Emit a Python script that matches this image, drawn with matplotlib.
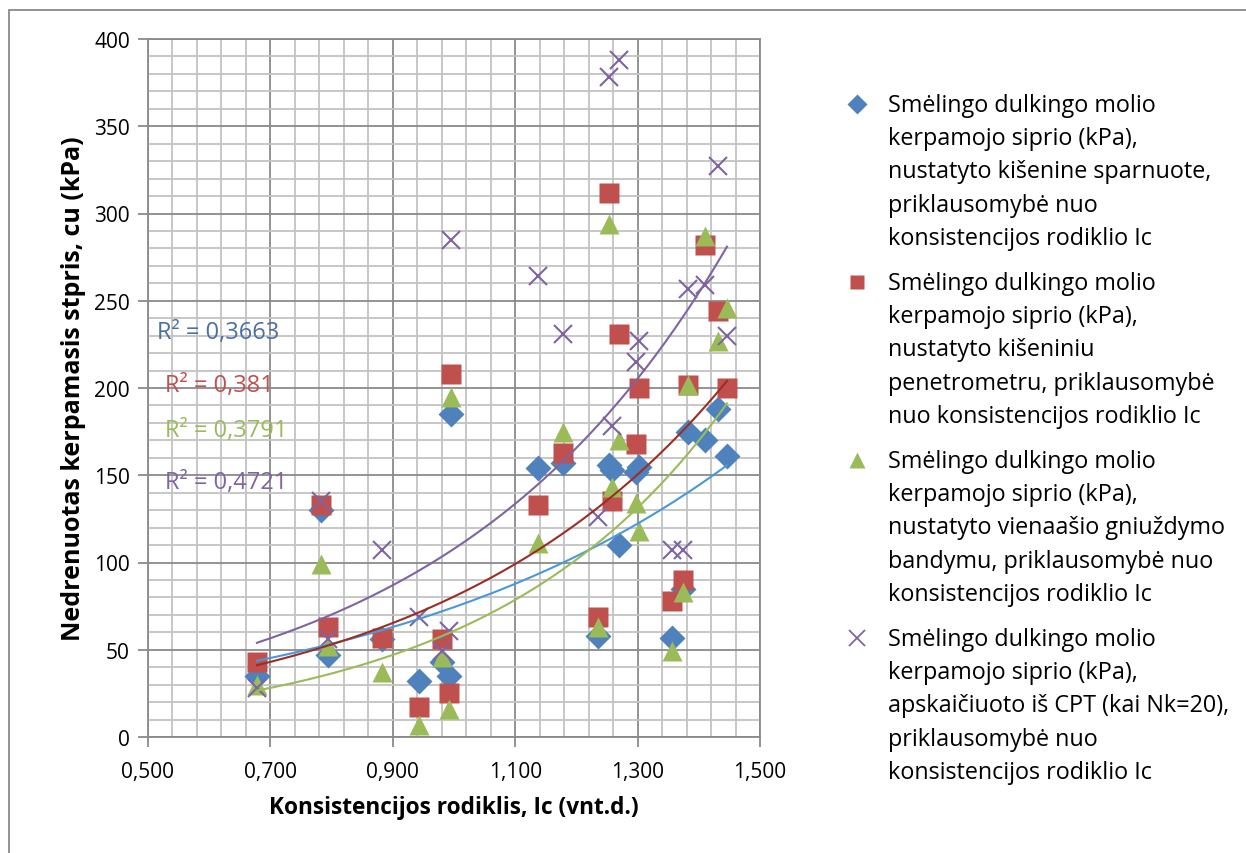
import numpy as np
import matplotlib.pyplot as plt
from matplotlib.lines import Line2D
from matplotlib.patches import Rectangle
from matplotlib.ticker import FixedLocator, FuncFormatter, MultipleLocator

plt.rcParams['font.family'] = ['Open Sans', 'DejaVu Sans']

# consistency index Ic for every sample
ic = [0.678, 0.782, 0.794, 0.882, 0.943, 0.981, 0.992, 0.995, 1.138, 1.178, 1.236,
      1.253, 1.258, 1.270, 1.297, 1.302, 1.357, 1.374, 1.383, 1.410, 1.432, 1.446]
# undrained shear strength cu (kPa)
cu_vane = [35, 130, 47, 56, 32, 43, 35, 185, 154, 157, 58,
           156, 153, 110, 152, 155, 57, 85, 175, 170, 188, 161]
cu_penetro = [43, 133, 63, 57, 17, 56, 25, 208, 133, 163, 69,
              312, 135, 231, 168, 200, 78, 90, 202, 282, 244, 200]
cu_uniax = [30, 99, 52, 37, 7, 46, 16, 195, 111, 175, 63,
            294, 143, 170, 134, 118, 49, 83, 202, 287, 227, 246]
cu_cpt = [28, 135, 56, 107, 69, 49, 61, 285, 264, 231, 126,
          378, 178, 388, 215, 227, 107, 107, 257, 259, 327, 230]

r2_labels = ['R² = 0,3663', 'R² = 0,381', 'R² = 0,3791', 'R² = 0,4721']
legend_labels = [
    'Smėlingo dulkingo molio\nkerpamojo siprio (kPa),\nnustatyto kišenine sparnuote,\npriklausomybė nuo\nkonsistencijos rodiklio Ic',
    'Smėlingo dulkingo molio\nkerpamojo siprio (kPa),\nnustatyto kišeniniu\npenetrometru, priklausomybė\nnuo konsistencijos rodiklio Ic',
    'Smėlingo dulkingo molio\nkerpamojo siprio (kPa),\nnustatyto vienaašio gniuždymo\nbandymu, priklausomybė nuo\nkonsistencijos rodiklio Ic',
    'Smėlingo dulkingo molio\nkerpamojo siprio (kPa),\napskaičiuoto iš CPT (kai Nk=20),\npriklausomybė nuo\nkonsistencijos rodiklio Ic',
]

series = [cu_vane, cu_penetro, cu_uniax, cu_cpt]
markers = ['D', 's', '^', 'x']
msizes = [13, 14, 15, 13]
colors = ['#4f81bd', '#c0504d', '#9bbb59', '#8064a2']
trend_colors = ['#4a98dc', '#9b2d24', '#9bbb59', '#8064a2']
text_colors = ['#4a6fa5', '#c0504d', '#9bbb59', '#8064a2']

fig = plt.figure(figsize=(12.46, 8.54), dpi=100)
ax = fig.add_axes([148/1246, 1-738/854, 612/1246, 698/854])

x = np.array(ic)
for ys, m, ms, c in zip(series, markers, msizes, colors):
    if m == 'x':
        ax.plot(x, ys, ls='none', marker=m, ms=ms, mew=1.5, color=c, zorder=3)
    else:
        ax.plot(x, ys, ls='none', marker=m, ms=ms, mec='none', color=c, zorder=3)

# exponential trend lines (least squares on ln y)
xx = np.linspace(x.min(), x.max(), 200)
for ys, c in zip(series, trend_colors):
    b, lna = np.polyfit(x, np.log(ys), 1)
    ax.plot(xx, np.exp(lna + b*xx), color=c, lw=1.5, zorder=4)

ax.set_xlim(0.5, 1.5)
ax.set_ylim(0, 400)
ax.xaxis.set_major_locator(FixedLocator(np.arange(0.5, 1.51, 0.2)))
ax.xaxis.set_minor_locator(FixedLocator(np.arange(0.5, 1.51, 0.04)))
ax.yaxis.set_major_locator(MultipleLocator(50))
ax.yaxis.set_minor_locator(MultipleLocator(10))
ax.xaxis.set_major_formatter(FuncFormatter(lambda v, p: f'{v:.3f}'.replace('.', ',')))
ax.grid(which='minor', color='#c3c3c3', lw=1.3)
ax.grid(which='major', color='#8a8a8a', lw=1.3)
ax.set_axisbelow(True)
for s in ax.spines.values():
    s.set_color('#8a8a8a')
    s.set_linewidth(1.3)
ax.tick_params(which='major', direction='out', length=7, color='#8a8a8a', width=1.3,
               labelsize=15, pad=6)
ax.tick_params(which='minor', length=0)
ax.tick_params(axis='x', pad=10)
ax.set_xlabel('Konsistencijos rodiklis, Ic (vnt.d.)', fontsize=16.3, fontweight='bold', labelpad=10)
ax.set_ylabel('Nedrenuotas kerpamasis stpris, cu (kPa)', fontsize=18, fontweight='bold', labelpad=6)

r2_pos = [(0.515, 232), (0.527, 202), (0.527, 176), (0.527, 146)]
for (tx, ty), t, c in zip(r2_pos, r2_labels, text_colors):
    ax.text(tx, ty, t, color=c, fontsize=17, va='center', ha='left', zorder=5)

# legend drawn at right
for i, (lab, m, ms, c) in enumerate(zip(legend_labels, markers, msizes, colors)):
    y0 = 1 - (105 + 178*i)/854
    if m == 'x':
        fig.add_artist(Line2D([857/1246], [y0], marker=m, ms=ms*0.85, mew=1.3, color=c,
                              transform=fig.transFigure))
    else:
        fig.add_artist(Line2D([857/1246], [y0], marker=m, ms=ms*0.75, mec='none', color=c,
                              transform=fig.transFigure))
    fig.text(888/1246, y0 + 11/854, lab, fontsize=16.8, va='top', ha='left', linespacing=1.51)

fig.add_artist(Rectangle((9/1246, -0.05), 1.2, 1-11/854+0.05, transform=fig.transFigure,
                         fill=False, ec='#8a8a8a', lw=1.3))

fig.savefig('out.png', dpi=100)
